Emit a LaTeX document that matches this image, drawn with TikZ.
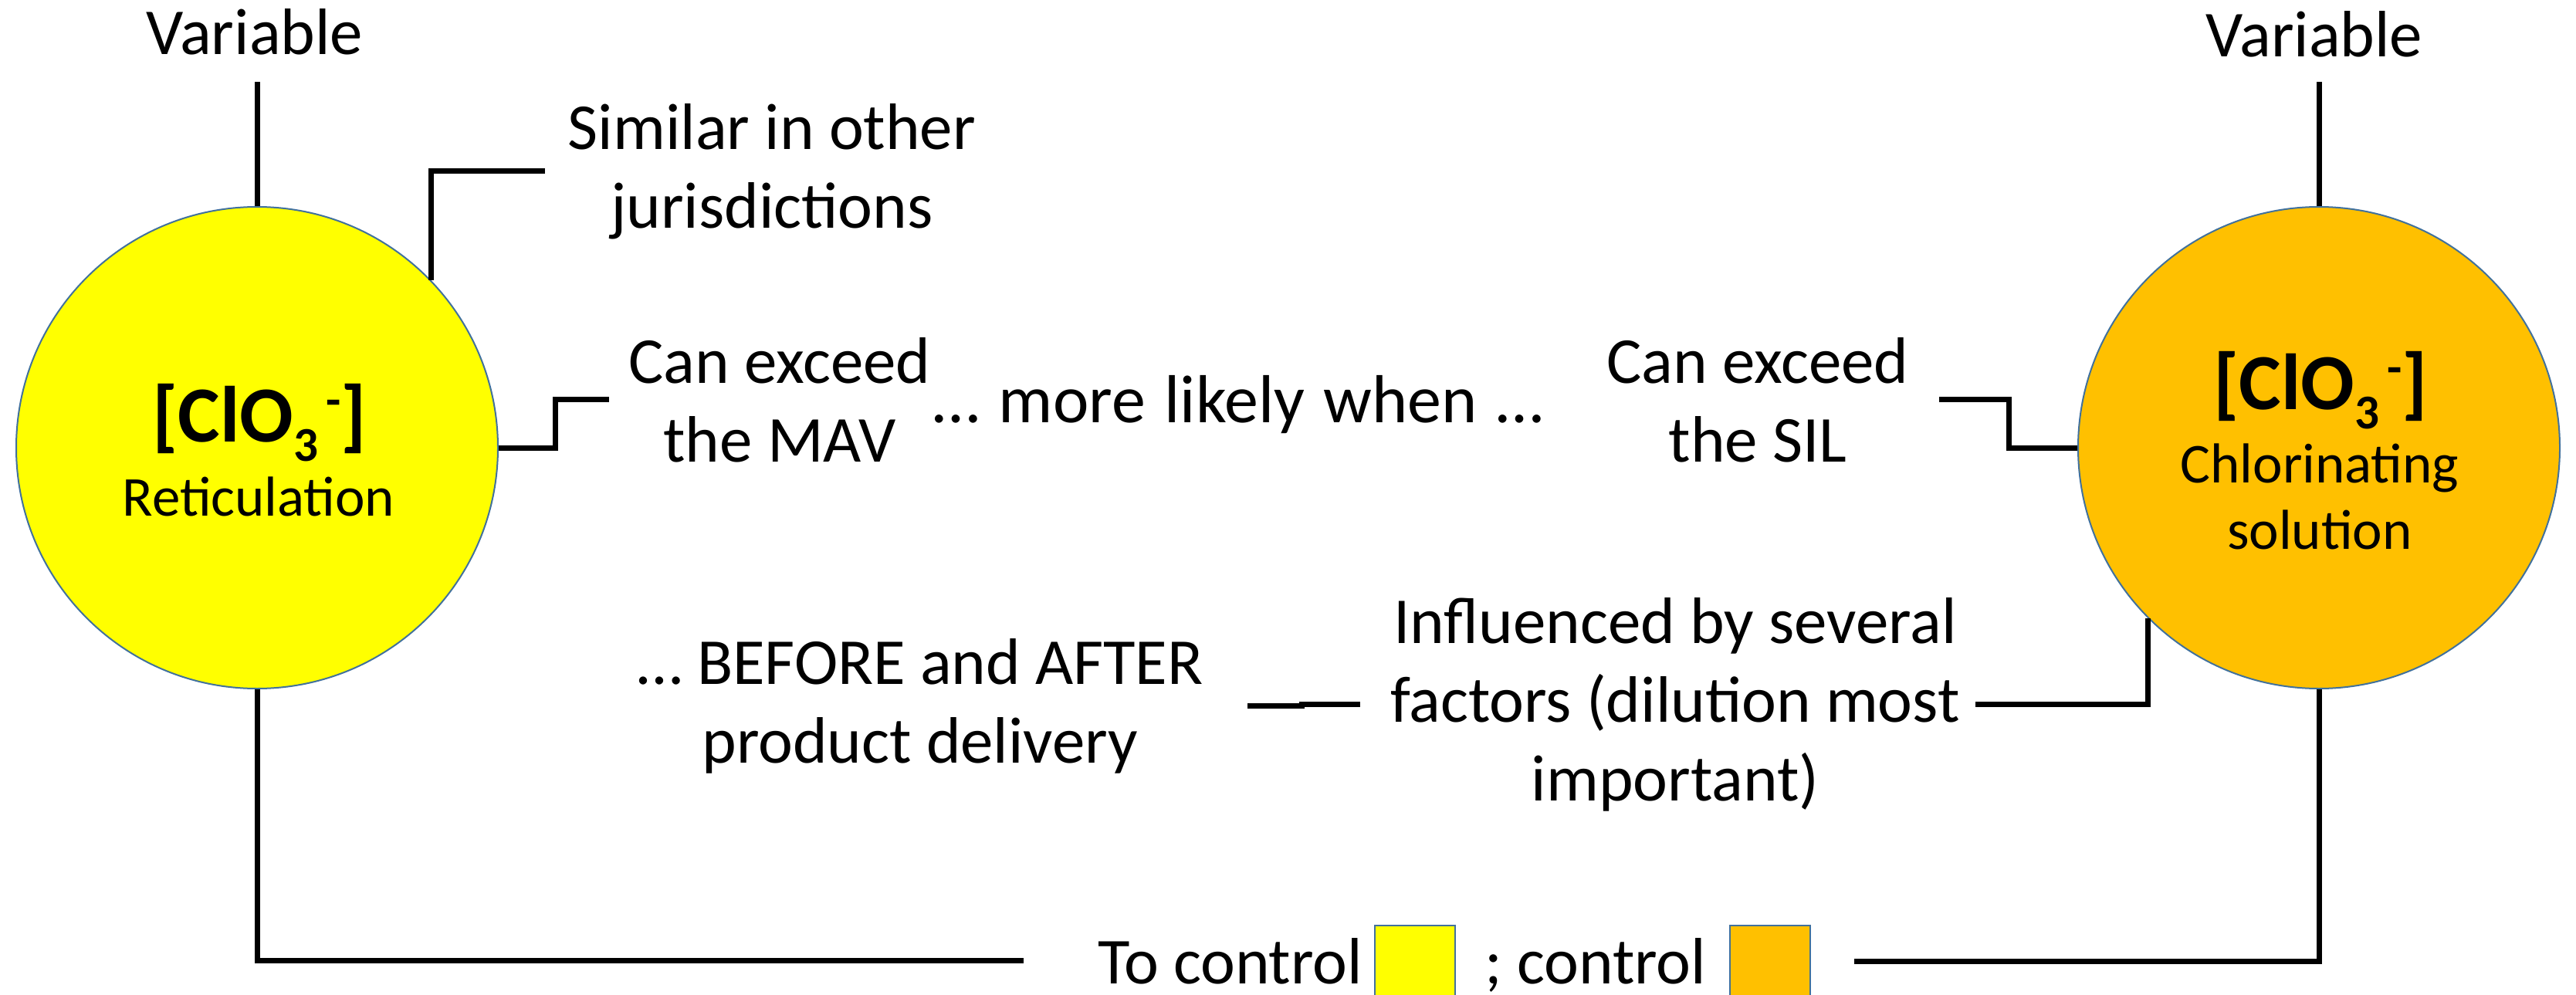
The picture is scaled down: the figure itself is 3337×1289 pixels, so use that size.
\documentclass[tikz,border=0pt]{standalone}
\usepackage{fontspec}
\setmainfont{Carlito}
\usetikzlibrary{calc}
\definecolor{cyel}{RGB}{255,255,0}
\definecolor{corg}{RGB}{255,192,0}
\definecolor{cedge}{RGB}{65,113,156}
\newcommand\chlorateion{[ClO\raisebox{-25pt}{\fontsize{63}{63}\selectfont 3}\kern10pt\raisebox{33pt}{\fontsize{63}{63}\selectfont -}]}
\begin{document}
\begin{tikzpicture}[x=1pt,y=-1pt,
  conn/.style={line width=7pt, line join=miter},
  bubble/.style={circle, draw=cedge, line width=2pt, minimum size=624pt, inner sep=0pt},
  body/.style={inner sep=0pt, font=\fontsize{85}{102}\selectfont, align=center},
  ttl/.style={inner sep=0pt, font=\bfseries\fontsize{103}{120}\selectfont, anchor=base},
  sub/.style={inner sep=0pt, font=\fontsize{73}{86}\selectfont, anchor=base},
  swatch/.style={draw=cedge, line width=2pt, minimum width=104pt, minimum height=92pt, inner sep=0pt}]
\fill[white] (0,0) rectangle (3337,1289);
\useasboundingbox (0,0) rectangle (3337,1289);

% circles
\node[bubble, fill=cyel] (L) at (333,580) {};
\node[bubble, fill=corg] (R) at (3004,580) {};
\node[ttl] (tL) at (336,572) {\chlorateion};
\node[sub] (sL) at (335,668) {Reticulation};
\node[ttl] (tR) at (3006,530) {\chlorateion};
\node[sub] (sR) at (3005,625) {Chlorinating};
\node[sub] (sR2) at (3005,711) {solution};

% texts (base anchor of a multi-line node = baseline of its last line)
\node[body, anchor=base] (varL) at (330,71) {Variable};
\node[body, anchor=base] (varR) at (2998,74) {Variable};
\node[body, anchor=base] (sim) at (1000,295) {Similar in other\\jurisdictions};
\node[body, anchor=base] (mav) at (1010,598) {Can exceed\\the MAV};
\node[body, anchor=base, font=\fontsize{88}{102}\selectfont] (more) at (1604,547) {\spaceskip=0.28em\relax … more likely when …};
\node[body, anchor=base] (sil) at (2277,598) {Can exceed\\the SIL};
\node[body, anchor=base] (bef) at (1192,988) {… BEFORE and AFTER\\product delivery};
\node[body, anchor=base] (infl) at (2170,1037) {Influenced by several\\factors (dilution most\\important)};
\node[body, anchor=base west] (ctl) at (1422,1274) {To control};
\node[swatch, fill=cyel] (bY) at (1833,1245) {};
\node[body, anchor=base west] (ctl2) at (1923,1274) {; control};
\node[swatch, fill=corg] (bO) at (2293,1245) {};

% connectors
\draw[conn] (L.north) -- ($(L.north |- varL.south)+(0,34)$);
\draw[conn] (R.north) -- ($(R.north |- varR.south)+(0,31)$);
\draw[conn] (L.44) |- ($(sim.west)+(-30,0)$);
\draw[conn] (L.east) -- ++(73,0) |- ($(mav.west)+(-25,0)$);
\draw[conn] (R.west) -- ++(-89,0) |- ($(sil.east)+(39,0)$);
\draw[conn] (R.225) |- ($(infl.east)+(20,0)$);
\draw[conn] ($(bef.east)+(57,0)$) -- ++(70,0) |- ($(infl.west)+(-39,0)$);
\draw[conn] (L.south) |- ($(ctl.west)+(-96,0)$);
\draw[conn] (R.south) |- ($(bO.east)+(56,0)$);
\end{tikzpicture}
\end{document}
